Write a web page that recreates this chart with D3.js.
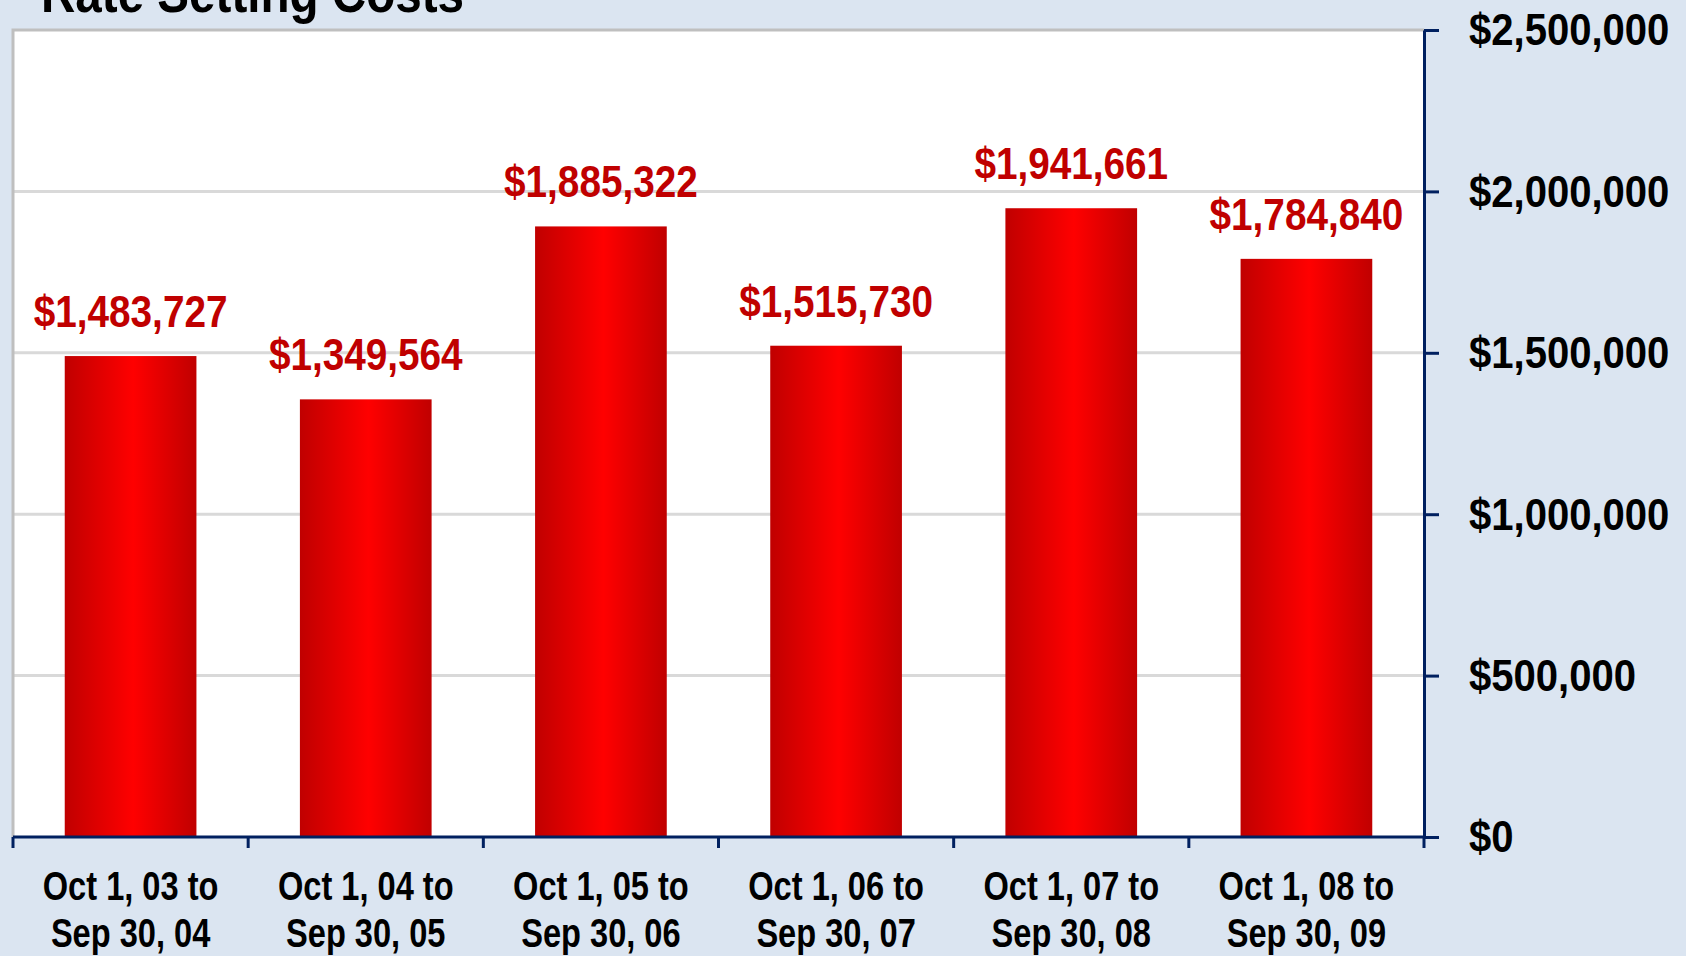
<!DOCTYPE html>
<html>
<head>
<meta charset="utf-8">
<script src="https://cdn.jsdelivr.net/npm/d3@7"></script>
<style>
  html, body { margin: 0; padding: 0; background: #dbe5f1; }
  svg { display: block; font-family: Arial, 'Liberation Sans', sans-serif; font-weight: bold; }
</style>
</head>
<body>
<svg id="chart" width="1686" height="956"></svg>
<script>
const periodStart = ['Oct 1, 03', 'Oct 1, 04', 'Oct 1, 05', 'Oct 1, 06', 'Oct 1, 07', 'Oct 1, 08'];
const periodEnd = ['Sep 30, 04', 'Sep 30, 05', 'Sep 30, 06', 'Sep 30, 07', 'Sep 30, 08', 'Sep 30, 09'];
const costs = [1483727, 1349564, 1885322, 1515730, 1941661, 1784840];
const yTicks = [0, 500000, 1000000, 1500000, 2000000, 2500000];
const title = 'Rate Setting Costs';

const PLOT = { left: 13, right: 1424, top: 30, bottom: 837 };

const svg = d3.select('#chart');

const defs = svg.append('defs');
const grad = defs.append('linearGradient').attr('id', 'barGrad')
  .attr('x1', '0%').attr('x2', '100%').attr('y1', '0%').attr('y2', '0%');
grad.append('stop').attr('offset', '0%').attr('stop-color', '#c00000');
grad.append('stop').attr('offset', '52%').attr('stop-color', '#ff0000');
grad.append('stop').attr('offset', '100%').attr('stop-color', '#c00000');

const X_SCALE = d3.scaleBand()
  .domain(periodStart)
  .range([PLOT.left, PLOT.right])
  .paddingInner(0.44)
  .paddingOuter(0.22);

const Y_SCALE = d3.scaleLinear()
  .domain([0, 2500000])
  .range([PLOT.bottom, PLOT.top]);

// plot area
svg.append('rect')
  .attr('x', PLOT.left).attr('y', PLOT.top)
  .attr('width', PLOT.right - PLOT.left).attr('height', PLOT.bottom - PLOT.top)
  .attr('fill', '#fff');

// title (cut off at top, like the original slide)
svg.append('text')
  .attr('transform', 'translate(41,12) scale(0.85,1)')
  .style('font-size', '56px')
  .attr('fill', '#000')
  .text(title);

// gridlines
svg.append('g')
  .selectAll('line')
  .data(yTicks.slice(1, -1))
  .join('line')
  .attr('x1', PLOT.left).attr('x2', PLOT.right)
  .attr('y1', d => Y_SCALE(d)).attr('y2', d => Y_SCALE(d))
  .attr('stroke', '#d9d9d9')
  .attr('stroke-width', 3);

// gray border top + left
svg.append('path')
  .attr('d', `M${PLOT.left},${PLOT.bottom} V${PLOT.top} H${PLOT.right}`)
  .attr('fill', 'none')
  .attr('stroke', '#bfbfbf')
  .attr('stroke-width', 3);

// bars
svg.append('g')
  .selectAll('rect')
  .data(costs)
  .join('rect')
  .attr('x', (d, i) => X_SCALE(periodStart[i]))
  .attr('y', d => Y_SCALE(d) - 2)
  .attr('width', X_SCALE.bandwidth())
  .attr('height', d => Y_SCALE(0) - Y_SCALE(d) + 2)
  .attr('fill', 'url(#barGrad)');

// value labels
const fmt = d3.format('$,');
svg.append('g')
  .selectAll('text')
  .data(costs)
  .join('text')
  .attr('transform', (d, i) =>
    `translate(${X_SCALE(periodStart[i]) + X_SCALE.bandwidth() / 2},${Y_SCALE(d) - 31}) scale(0.88,1)`)
  .attr('text-anchor', 'middle')
  .attr('fill', '#c00000')
  .style('font-size', '44px')
  .text(d => fmt(d));

// right y axis
const yAxis = svg.append('g')
  .attr('transform', `translate(${PLOT.right},0)`)
  .call(d3.axisRight(Y_SCALE).tickValues(yTicks).tickSize(15).tickSizeOuter(0).tickFormat(fmt));
yAxis.attr('font-family', null).attr('font-size', null);
yAxis.select('.domain').attr('stroke', '#002060').attr('stroke-width', 3);
yAxis.selectAll('.tick line').attr('stroke', '#002060').attr('stroke-width', 3);
yAxis.selectAll('.tick text')
  .attr('x', null).attr('dy', '0.33em')
  .attr('transform', 'translate(45,0) scale(0.89,1)')
  .attr('fill', '#000')
  .style('font-size', '45px');

// bottom x axis, ticks between categories
const step = X_SCALE.step();
const bounds = periodStart.map(d => X_SCALE(d) - step * X_SCALE.paddingInner() / 2)
  .concat([PLOT.right]);
const xAxis = svg.append('g');
xAxis.append('line')
  .attr('x1', PLOT.left).attr('x2', PLOT.right)
  .attr('y1', PLOT.bottom).attr('y2', PLOT.bottom)
  .attr('stroke', '#002060').attr('stroke-width', 3);
xAxis.selectAll('line.tk')
  .data(bounds)
  .join('line')
  .attr('class', 'tk')
  .attr('x1', d => d).attr('x2', d => d)
  .attr('y1', PLOT.bottom).attr('y2', PLOT.bottom + 11)
  .attr('stroke', '#002060').attr('stroke-width', 3);

const xl = xAxis.selectAll('text')
  .data(periodStart)
  .join('text')
  .attr('transform', d => `translate(${X_SCALE(d) + X_SCALE.bandwidth() / 2},0) scale(0.815,1)`)
  .attr('text-anchor', 'middle')
  .attr('fill', '#000')
  .style('font-size', '40px');
xl.append('tspan').attr('x', 0).attr('y', 900).text(d => d + ' to');
xl.append('tspan').attr('x', 0).attr('y', 947).text((d, i) => periodEnd[i]);
</script>
</body>
</html>
